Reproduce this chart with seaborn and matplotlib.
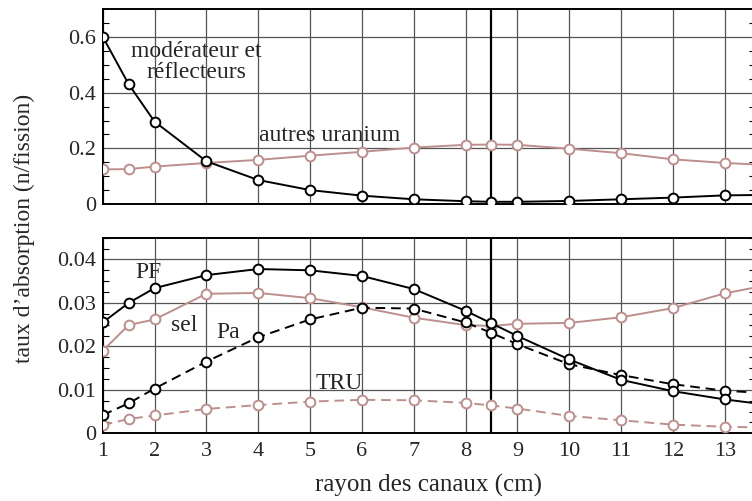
import matplotlib
matplotlib.use("Agg")
import matplotlib.pyplot as plt
import seaborn as sns
import pandas as pd
from matplotlib.ticker import MultipleLocator

# ---------------- data ----------------
rayon = [1, 1.5, 2, 3, 4, 5, 6, 7, 8, 8.5, 9, 10, 11, 12, 13, 14]

moderateur = [0.600, 0.430, 0.296, 0.154, 0.087, 0.051, 0.031, 0.018, 0.011, 0.009,
              0.009, 0.012, 0.018, 0.024, 0.032, 0.034]
autres_uranium = [0.125, 0.126, 0.135, 0.148, 0.159, 0.174, 0.188, 0.203, 0.213, 0.214,
                  0.213, 0.199, 0.183, 0.161, 0.148, 0.139]

pf = [0.0255, 0.0300, 0.0334, 0.0364, 0.0378, 0.0375, 0.0362, 0.0332, 0.0282, 0.0253,
      0.0224, 0.0170, 0.0123, 0.0097, 0.0078, 0.0063]
pa = [0.0042, 0.0069, 0.0103, 0.0165, 0.0221, 0.0262, 0.0289, 0.0287, 0.0255, 0.0231,
      0.0205, 0.0159, 0.0134, 0.0113, 0.0098, 0.0091]
sel = [0.0190, 0.0249, 0.0262, 0.0321, 0.0323, 0.0311, 0.0290, 0.0266, 0.0249, 0.0247,
       0.0252, 0.0254, 0.0267, 0.0288, 0.0322, 0.0345]
tru = [0.0019, 0.0033, 0.0041, 0.0056, 0.0065, 0.0073, 0.0077, 0.0076, 0.0070, 0.0064,
       0.0057, 0.0040, 0.0030, 0.0020, 0.0015, 0.0013]

x_ticks = [1, 2, 3, 4, 5, 6, 7, 8, 9, 10, 11, 12, 13]
top_yticks = [0, 0.2, 0.4, 0.6]
top_ylabels = ["0", "0.2", "0.4", "0.6"]
bot_yticks = [0, 0.01, 0.02, 0.03, 0.04]
bot_ylabels = ["0", "0.01", "0.02", "0.03", "0.04"]

# ---------------- style ----------------
sns.set_theme(style="white")
plt.rcParams['font.family'] = ['Liberation Serif', 'DejaVu Serif']
plt.rcParams['axes.edgecolor'] = 'black'
plt.rcParams['axes.linewidth'] = 1.4

PINK = "#bd8f8c"
BLACK = "black"
FS_TICK = 16
FS_LABEL = 17

fig = plt.figure(figsize=(7.52, 5.01), dpi=100)
ax1 = fig.add_axes([0.1366, 0.5922, 1.004 - 0.1366, 0.3892])
ax2 = fig.add_axes([0.1366, 0.1351, 1.004 - 0.1366, 0.3904])

def draw(ax, y, color, dashed=False):
    df = pd.DataFrame({"x": rayon, "y": y})
    kw = dict(color=color, lw=1.4, marker="o", markersize=7,
              markerfacecolor="white", markeredgecolor=color, markeredgewidth=1.4)
    sns.lineplot(data=df, x="x", y="y", ax=ax, estimator=None, sort=False,
                 legend=False, zorder=3, **kw)
    if dashed:
        ax.lines[-1].set_linestyle((0, (5, 3)))

draw(ax1, autres_uranium, PINK)
draw(ax1, moderateur, BLACK)

draw(ax2, tru, PINK, dashed=True)
draw(ax2, sel, PINK)
draw(ax2, pa, BLACK, dashed=True)
draw(ax2, pf, BLACK)

for ax, yt, yl, ylim, minor in [(ax1, top_yticks, top_ylabels, (0, 0.698), 0.05),
                                (ax2, bot_yticks, bot_ylabels, (0, 0.045), 0.0025)]:
    ax.set_xlim(1, 13.585)
    ax.set_ylim(*ylim)
    ax.set_xticks(x_ticks)
    ax.set_yticks(yt)
    ax.set_yticklabels(yl, fontsize=FS_TICK)
    ax.yaxis.set_minor_locator(MultipleLocator(minor))
    ax.set_axisbelow(True)
    ax.grid(True, which="major", color="#555555", lw=0.9)
    ax.axvline(8.5, color="black", lw=1.6, zorder=2)
    ax.tick_params(axis="y", which="both", direction="in", left=True, right=True,
                   labelright=False, color="black", pad=5)
    ax.tick_params(axis="y", which="major", length=0)
    ax.tick_params(axis="y", which="minor", length=4, width=0.8)
    ax.tick_params(axis="x", which="both", direction="in", bottom=True, length=0,
                   labelsize=FS_TICK, pad=6)
    ax.set_xlabel("")
    ax.set_ylabel("")
    for s in ax.spines.values():
        s.set_color("black")
        s.set_linewidth(1.4)

ax1.tick_params(axis="x", labelbottom=False)
ax2.set_xticklabels([str(v) for v in x_ticks], fontsize=FS_TICK)

# annotations
ax1.text(2.80, 0.509, "modérateur et\nréflecteurs", ha="center", va="center",
         fontsize=FS_LABEL, linespacing=1.0)
ax1.text(5.37, 0.248, "autres uranium", ha="center", va="center", fontsize=FS_LABEL)
ax2.text(1.874, 0.0369, "PF", ha="center", va="center", fontsize=FS_LABEL)
ax2.text(2.57, 0.0249, "sel", ha="center", va="center", fontsize=FS_LABEL)
ax2.text(3.42, 0.0231, "Pa", ha="center", va="center", fontsize=FS_LABEL)
ax2.text(5.56, 0.01156, "TRU", ha="center", va="center", fontsize=FS_LABEL)

fig.text(428.5 / 752, 1 - 485 / 501, "rayon des canaux (cm)", ha="center", va="center",
         fontsize=FS_LABEL + 1)
fig.text(24 / 752, 1 - 228 / 501, "taux d’absorption (n/fission)", ha="center",
         va="center", rotation=90, fontsize=FS_LABEL)

fig.savefig("out.png", dpi=100)
